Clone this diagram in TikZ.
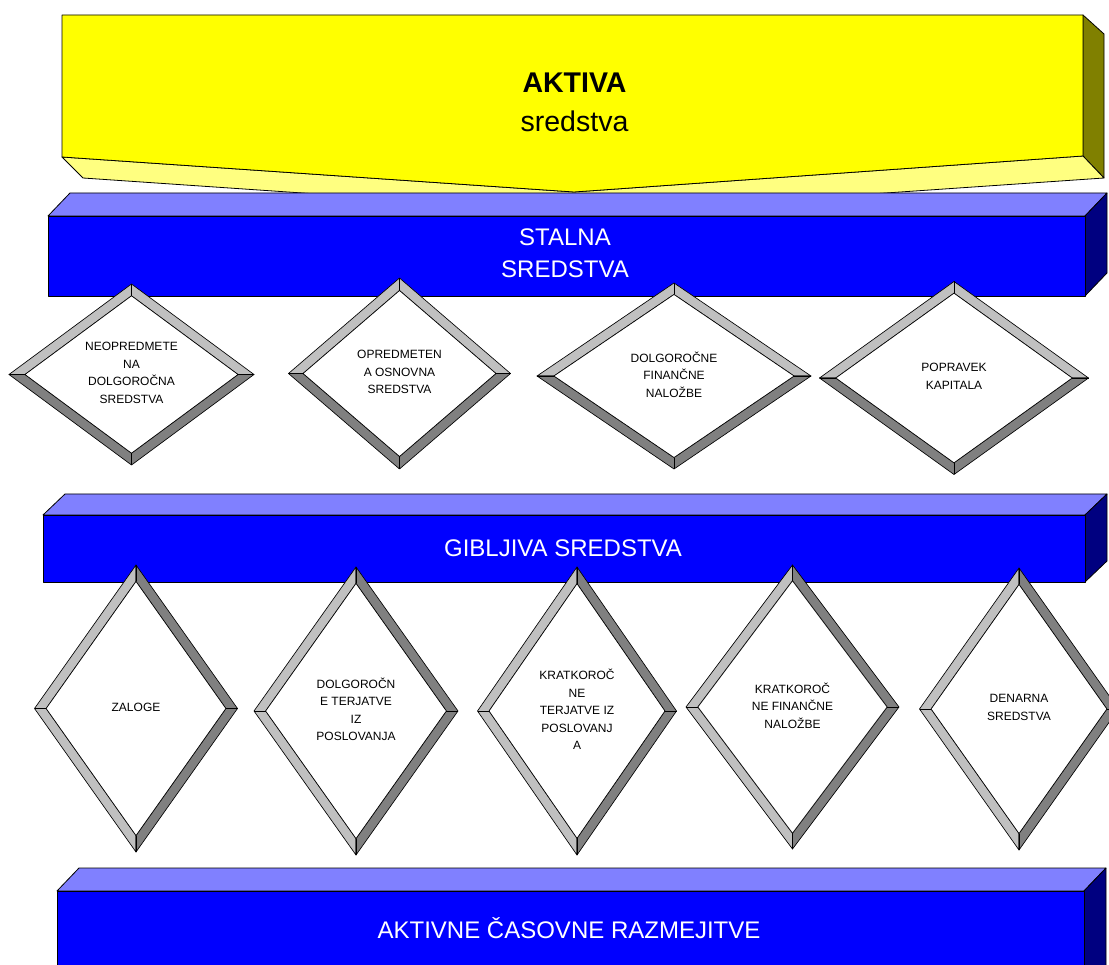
\documentclass[tikz,border=0pt]{standalone}
\usepackage{fontspec}
\setmainfont{Liberation Sans}
\usetikzlibrary{calc}

\definecolor{ylwfront}{HTML}{FFFF00}
\definecolor{ylwbottom}{HTML}{FFFF80}
\definecolor{ylwside}{HTML}{808000}
\definecolor{barfront}{HTML}{0000FF}
\definecolor{bartop}{HTML}{8080FF}
\definecolor{barside}{HTML}{000080}
\definecolor{bevlight}{HTML}{C0C0C0}
\definecolor{bevdark}{HTML}{808080}

\tikzset{
  face/.style={draw=black, line width=0.8pt, line join=round},
  thinface/.style={draw=black, line width=0.65pt, line join=round},
  bartext/.style={text=white, font=\fontsize{24}{32}\selectfont, align=center, inner sep=0pt},
  toptext/.style={text=black, font=\fontsize{28.5}{39}\selectfont, align=center, inner sep=0pt},
  dlabel/.style={text=black, font=\fontsize{12}{17.5}\selectfont, align=center, inner sep=0pt},
}

% 3D bar: left x, front top y, right x, front bottom y, depth dx, depth dy
\newcommand\bluebar[6]{%
  \filldraw[fill=bartop, face] (#1,#2) -- ({#1+#5},{#2-#6}) -- ({#3+#5},{#2-#6}) -- (#3,#2) -- cycle;
  \filldraw[fill=barside, face] (#3,#2) -- ({#3+#5},{#2-#6}) -- ({#3+#5},{#4-#6}) -- (#3,#4) -- cycle;
  \filldraw[fill=barfront, face] (#1,#2) rectangle (#3,#4);
}

% bevelled diamond: name, centre x, centre y, half width, half height, 1 = light top / 2 = light left, label
\newcommand\bevdiam[7]{%
  \pgfmathsetmacro\Lv{10*veclen(#4/10,#5/10)}%
  \pgfmathsetmacro\ia{#4-9.5*\Lv/#5}%
  \pgfmathsetmacro\ib{#5-9.5*\Lv/#4}%
  \coordinate (#1N) at (#2,{#3-#5});
  \coordinate (#1S) at (#2,{#3+#5});
  \coordinate (#1W) at ({#2-#4},#3);
  \coordinate (#1E) at ({#2+#4},#3);
  \coordinate (#1n) at (#2,{#3-\ib});
  \coordinate (#1s) at (#2,{#3+\ib});
  \coordinate (#1w) at ({#2-\ia},#3);
  \coordinate (#1e) at ({#2+\ia},#3);
  \ifnum#6=1
    \filldraw[fill=bevlight, thinface] (#1W) -- (#1N) -- (#1E) -- (#1e) -- (#1n) -- (#1w) -- cycle;
    \filldraw[fill=bevdark, thinface] (#1W) -- (#1S) -- (#1E) -- (#1e) -- (#1s) -- (#1w) -- cycle;
  \else
    \filldraw[fill=bevlight, thinface] (#1N) -- (#1W) -- (#1S) -- (#1s) -- (#1w) -- (#1n) -- cycle;
    \filldraw[fill=bevdark, thinface] (#1N) -- (#1E) -- (#1S) -- (#1s) -- (#1e) -- (#1n) -- cycle;
  \fi
  \filldraw[fill=white, thinface] (#1n) -- (#1e) -- (#1s) -- (#1w) -- cycle;
  \draw[thinface] (#1N) -- (#1n) (#1S) -- (#1s) (#1W) -- (#1w) (#1E) -- (#1e);
  \node[dlabel] (#1) at (#2,{#3-1.5}) {#7};
}

\begin{document}
\begin{tikzpicture}[x=1pt, y=-1pt]
  \useasboundingbox (0,0) rectangle (1109,965);

  % yellow block: side, underside, front
  \filldraw[fill=ylwside, face] (1083,15) -- (1104,34) -- (1104,178) -- (1083,156) -- cycle;
  \filldraw[fill=ylwbottom, face] (62,157) -- (574,192) -- (1083,156) -- (1104,178) -- (595,213) -- (83,178) -- cycle;
  \filldraw[fill=ylwfront, face] (62,15) -- (1083,15) -- (1083,156) -- (574,192) -- (62,157) -- cycle;
  \node[toptext] (aktiva) at (574.5,102.5) {\textbf{AKTIVA}\\sredstva};

  % category bars
  \bluebar{48}{216}{1085}{296}{22}{23}
  \node[bartext] (stalna) at (565,253.5) {STALNA\\SREDSTVA};

  \bluebar{43}{515}{1085}{582}{22}{21}
  \node[bartext] (gibljiva) at (563,548) {GIBLJIVA SREDSTVA};

  \bluebar{57}{891}{1084}{1000}{22}{23}
  \node[bartext] (razmejitve) at (569,928) {AKTIVNE ČASOVNE RAZMEJITVE};

  % fixed assets
  \bevdiam{d1}{131.5}{374.5}{122.5}{90.5}{1}{NEOPREDMETE\\NA\\DOLGOROČNA\\ SREDSTVA}
  \bevdiam{d2}{399.5}{373.5}{111}{95.5}{1}{OPREDMETEN\\A OSNOVNA\\SREDSTVA}
  \bevdiam{d3}{674}{376}{137}{93}{1}{DOLGOROČNE\\FINANČNE\\NALOŽBE}
  \bevdiam{d4}{954}{378}{134.5}{96.5}{1}{POPRAVEK\\KAPITALA}

  % current assets
  \bevdiam{b1}{136}{708.5}{101.5}{143.5}{2}{ZALOGE}
  \bevdiam{b2}{356}{711}{102}{144}{2}{DOLGOROČN\\E TERJATVE\\IZ\\POSLOVANJA}
  \bevdiam{b3}{577}{711}{99.5}{144}{2}{KRATKOROČ\\NE\\TERJATVE IZ\\POSLOVANJ\\A}
  \bevdiam{b4}{792.5}{707}{106.5}{142}{2}{KRATKOROČ\\NE FINANČNE\\NALOŽBE}
  \bevdiam{b5}{1019}{709}{99.5}{141}{2}{DENARNA\\SREDSTVA}
\end{tikzpicture}
\end{document}
